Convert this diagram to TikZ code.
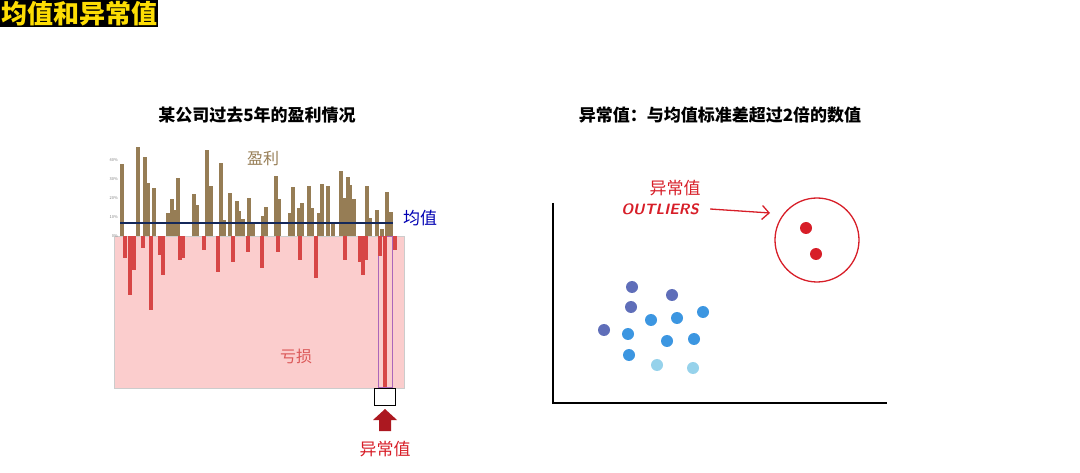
\documentclass[tikz,border=0pt]{standalone}
\usepackage{fontspec}
\setmainfont{Noto Sans CJK SC}
\usetikzlibrary{arrows.meta}
\definecolor{gain}{RGB}{150,125,85}
\definecolor{loss}{RGB}{215,70,70}
\definecolor{lossbg}{RGB}{251,205,205}
\definecolor{meanc}{RGB}{20,40,90}
\definecolor{outred}{RGB}{215,30,40}
\definecolor{dotA}{RGB}{95,110,185}
\definecolor{dotB}{RGB}{60,150,225}
\definecolor{dotC}{RGB}{150,210,235}
\begin{document}
\begin{tikzpicture}[x=1pt,y=-1pt,
  title/.style={font=\bfseries\fontsize{17}{17}\selectfont},
  tick/.style={font=\fontsize{4}{4}\selectfont,text=gray,anchor=east,inner sep=1pt},
  dot/.style={circle,fill=#1,inner sep=0pt,minimum size=12pt}]
\useasboundingbox (0,0) rectangle (1080,473);
% heading
\node[fill=black,text=yellow!80!orange,font=\bfseries\fontsize{26}{26}\selectfont,inner sep=1pt,anchor=north west] (head) at (0,0) {均值和异常值};
% left: profit chart
\node[title] (ltitle) at (257,115) {某公司过去5年的盈利情况};
\fill[lossbg,draw=gray!40] (114,236) rectangle (404,388);
\draw[blue!40!purple!60,line width=0.4pt] (378,236) rectangle (392,387);
\foreach \x/\t in {122/164,138/147,145/157,148/183,154/188,168/213,172/199,175/210,178/178,194/194,197/205,207/150,211/186,221/163,224/220,230/193,237/201,239/211,243/219,249/198,253/222,263/216,266/207,276/176,279/199,290/213,293/187,299/208,302/203,309/186,312/208,319/213,322/184,328/186,333/223,341/171,344/198,348/177,350/185,354/199,367/186,370/218,377/210,382/229,387/192,391/212}
  \fill[gain] (\x-1.8,236) rectangle (\x+1.8,\t);
\foreach \x/\b in {125/258,130/295,134/270,143/248,151/310,160/255,163/275,180/260,183/258,204/250,218/272,233/262,248/252,262/268,278/252,300/260,316/278,345/260,360/262,363/275,366/260,380/256,385/387,395/250}
  \fill[loss] (\x-1.8,236) rectangle (\x+1.8,\b);
\foreach \v [count=\i from 0] in {0\%,10\%,20\%,30\%,40\%}
  \node[tick] (t\i) at (119,236-19*\i) {\v};
\draw[meanc,line width=1.5pt] (120,223) -- (393,223);
\node[text=blue!70!black,font=\fontsize{17}{17}\selectfont] (mean) at (420,218) {均值};
\node[text=gain,font=\fontsize{16}{16}\selectfont] (gainlbl) at (263,158) {盈利};
\node[text=loss!90!white,font=\fontsize{16}{16}\selectfont] (losslbl) at (296,356) {亏损};
\draw[black,fill=white] (374,388) rectangle (395,405);
\fill[outred!80!black] (385,409) -- (397,420) -- (391,420) -- (391,431) -- (379,431) -- (379,420) -- (373,420) -- cycle;
\node[text=outred,font=\fontsize{17}{17}\selectfont] (outl) at (385,449) {异常值};
% right: scatter
\node[title] (rtitle) at (720,115) {异常值：与均值标准差超过2倍的数值};
\draw[line width=2pt] (553,203) -- (553,403) -- (887,403);
\node[draw=outred,line width=1.3pt,circle,minimum size=84pt] (ring) at (817,240) {};
\node[dot=outred] (o1) at (806,228) {};
\node[dot=outred] (o2) at (816,254) {};
\node[text=outred,font=\fontsize{17}{17}\selectfont] (olbl) at (675,188) {异常值};
\node[text=outred,font=\itshape\bfseries\sffamily\fontsize{15}{15}\selectfont] (oword) at (660,209) {OUTLIERS};
\coordinate (tip) at (770,213);
\draw[outred,line width=1.3pt,-{Straight Barb[length=7pt,width=14pt]}] (oword.east) ++(8,0) -- (tip);
\foreach \x/\y/\c in {632/287/dotA,631/307/dotA,672/295/dotA,604/330/dotA,628/334/dotB,651/320/dotB,677/318/dotB,703/312/dotB,629/355/dotB,667/341/dotB,694/339/dotB,657/365/dotC,693/368/dotC}
  \node[dot=\c] at (\x,\y) {};
\end{tikzpicture}
\end{document}
